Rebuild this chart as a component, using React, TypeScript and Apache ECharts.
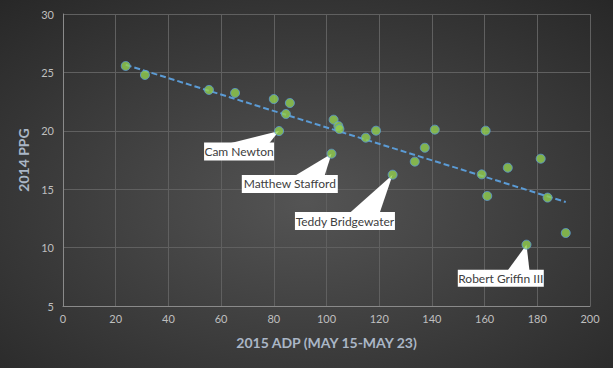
import React, { useEffect, useRef } from "react";
import * as echarts from "echarts";

// 2015 ADP (x) and 2014 PPG (y) per quarterback
const adp = [23.8, 31.1, 55.4, 65.3, 80.0, 86.1, 84.6, 82.0, 102.7, 104.5, 104.9, 114.9, 118.8, 141.1, 160.4, 137.3, 133.5, 101.9, 181.3, 168.8, 158.9, 125.1, 161.0, 183.9, 190.8, 175.9];
const ppg = [25.55, 24.78, 23.5, 23.24, 22.72, 22.38, 21.44, 19.98, 20.95, 20.41, 20.15, 19.41, 20.01, 20.1, 20.01, 18.55, 17.36, 18.04, 17.61, 16.84, 16.27, 16.24, 14.42, 14.28, 11.25, 10.25];

// labelled players (index into arrays above)
const labelNames = ["Cam Newton", "Matthew Stafford", "Teddy Bridgewater", "Robert Griffin III"];
const labelIndex = [7, 17, 21, 25];

// linear trendline end points
const trendX = [23.8, 190.8];
const trendY = [25.65, 13.9];

const xTicks = { min: 0, max: 200, interval: 20 };
const yTicks = { min: 5, max: 30, interval: 5 };

// callout layout (pixel offsets relative to the point)
const calloutLayout = [
  { dx: -40, dy: 20.5, w: 70, h: 18, b0: -50, b1: -10 },
  { dx: -41.7, dy: 30.3, w: 96, h: 18, b0: -37, b1: -7 },
  { dx: -47.7, dy: 46.3, w: 100, h: 18, b0: -43, b1: -13 },
  { dx: -25.7, dy: 33.6, w: 86, h: 17, b0: -19, b1: 3 },
];

const FONT = "Lato, 'Noto Sans', sans-serif";

export default function App() {
  const ref = useRef<HTMLDivElement>(null);
  useEffect(() => {
    if (!ref.current) return;
    const chart = echarts.init(ref.current, undefined, { renderer: "svg" });
    const points = adp.map((x, i) => [x, ppg[i]]);
    const labelData = labelIndex.map((i, k) => [adp[i], ppg[i], labelNames[k]]);
    const trendData = trendX.map((x, i) => [x, trendY[i]]);
    chart.setOption({
      animation: false,
      backgroundColor: {
        type: "radial",
        x: 0.5,
        y: 0.55,
        r: 0.8,
        colorStops: [
          { offset: 0, color: "#545454" },
          { offset: 1, color: "#242424" },
        ],
      },
      textStyle: { fontFamily: FONT },
      grid: { left: 63, right: 23, top: 14, bottom: 62, outerBoundsMode: "none" },
      xAxis: {
        type: "value",
        min: xTicks.min,
        max: xTicks.max,
        interval: xTicks.interval,
        name: "2015 ADP (MAY 15-MAY 23)",
        nameLocation: "middle",
        nameGap: 29,
        nameTextStyle: { color: "#aab6c6", fontSize: 14, fontWeight: "bold", fontFamily: FONT },
        axisLine: { show: true, lineStyle: { color: "#8a8a8a", width: 1 } },
        axisTick: { show: false },
        axisLabel: { color: "#bfbfbf", fontSize: 11, margin: 7, fontFamily: FONT },
        splitLine: { show: true, lineStyle: { color: "#606060", width: 1 } },
      },
      yAxis: {
        type: "value",
        min: yTicks.min,
        max: yTicks.max,
        interval: yTicks.interval,
        name: "2014 PPG",
        nameLocation: "middle",
        nameGap: 29,
        nameTextStyle: { color: "#aab6c6", fontSize: 14, fontWeight: "bold", fontFamily: FONT },
        axisLine: { show: true, lineStyle: { color: "#8a8a8a", width: 1 } },
        axisTick: { show: false },
        axisLabel: { color: "#bfbfbf", fontSize: 11, margin: 9, fontFamily: FONT },
        splitLine: { show: true, lineStyle: { color: "#606060", width: 1 } },
      },
      series: [
        {
          type: "custom",
          z: 1,
          data: labelData,
          renderItem: (params: any, api: any) => {
            const p = api.coord([api.value(0), api.value(1)]);
            const L = calloutLayout[params.dataIndex];
            const cx = p[0] + L.dx;
            const cy = p[1] + L.dy;
            const top = cy - L.h / 2;
            return {
              type: "group",
              children: [
                {
                  type: "polygon",
                  shape: {
                    points: [
                      [p[0], p[1]],
                      [p[0] + L.b0, top + 1],
                      [p[0] + L.b1, top + 1],
                    ],
                  },
                  style: { fill: "#ffffff" },
                },
                {
                  type: "rect",
                  shape: { x: cx - L.w / 2, y: top, width: L.w, height: L.h },
                  style: { fill: "#ffffff" },
                },
                {
                  type: "text",
                  x: cx,
                  y: cy,
                  style: {
                    text: labelNames[params.dataIndex],
                    fill: "#404040",
                    fontSize: 12,
                    fontFamily: FONT,
                    align: "center",
                    verticalAlign: "middle",
                  },
                },
              ],
            };
          },
        },
        {
          type: "line",
          z: 2,
          data: trendData,
          symbol: "none",
          lineStyle: { color: "#5b9bd5", width: 2, type: [6, 3] },
          silent: true,
        },
        {
          type: "scatter",
          z: 3,
          data: points,
          symbolSize: 9,
          itemStyle: { color: "#92d050", borderColor: "#5b9bd5", borderWidth: 1 },
        },
      ],
    });
    return () => chart.dispose();
  }, []);
  return (
    <div
      ref={ref}
      style={{ position: "absolute", left: 0, top: 0, width: 613, height: 368 }}
    />
  );
}
